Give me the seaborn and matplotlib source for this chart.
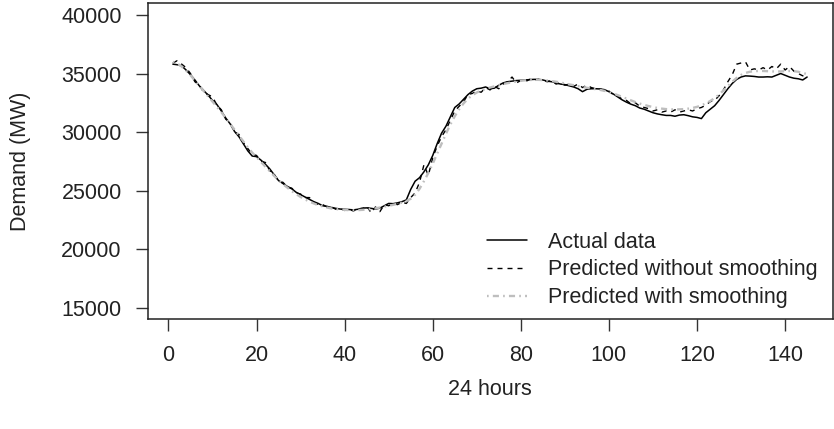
import numpy as np
import pandas as pd
import matplotlib
matplotlib.use("Agg")
import matplotlib.pyplot as plt
import seaborn as sns

# ── Data ──
actual = [
    35800, 35750, 35650, 35300, 34900, 34450, 33950, 33550, 33150, 32700,
    32350, 31800, 31200, 30700, 30050, 29600, 29000, 28400, 27950, 27900,
    27600, 27250, 26850, 26350, 25850, 25600, 25350, 25150, 24850, 24650,
    24450, 24250, 24050, 23900, 23700, 23650, 23550, 23480, 23420, 23400,
    23380, 23350, 23400, 23500, 23520, 23480, 23420, 23500, 23700, 23900,
    23880, 23950, 24050, 24200, 25100, 25800, 26100, 26600, 27200, 28000,
    29000, 29900, 30500, 31300, 32100, 32400, 32800, 33200, 33500, 33700,
    33750, 33850, 33700, 33750, 34000, 34200, 34300, 34350, 34400, 34420,
    34450, 34480, 34500, 34500, 34450, 34350, 34300, 34200, 34100, 34050,
    33950, 33850, 33700, 33450, 33650, 33700, 33700, 33680, 33620, 33450,
    33250, 33000, 32750, 32550, 32380, 32250, 32050, 31950, 31800, 31650,
    31550, 31480, 31420, 31420, 31350, 31450, 31480, 31400, 31300, 31250,
    31150, 31650, 31950, 32250, 32700, 33200, 33700, 34150, 34500, 34700,
    34800, 34780, 34750, 34700, 34700, 34720, 34700, 34850, 35000, 34850,
    34700, 34600, 34550, 34450, 34700,
]

pred_raw = [
    35900, 36100, 35800, 35500, 35000, 34300, 34000, 33400, 33200, 33000,
    32300, 31900, 31100, 30800, 30000, 29800, 29100, 28600, 28100, 28000,
    27500, 27400, 26700, 26400, 25800, 25700, 25300, 25200, 24800, 24700,
    24400, 24400, 24000, 23800, 23800, 23600, 23600, 23400, 23450, 23300,
    23400, 23250, 23500, 23400, 23700, 23100, 23600, 23200, 23800, 23700,
    23900, 23800, 24000, 23900, 24400, 24800, 25700, 27200, 26300, 27800,
    28800, 29600, 30200, 31000, 31800, 32200, 32600, 33200, 33300, 33500,
    33400, 33800, 33600, 33900, 33700, 34100, 34300, 34700, 34200, 34400,
    34300, 34500, 34400, 34500, 34400, 34300, 34400, 34100, 34200, 34000,
    34100, 33900, 34100, 33800, 34000, 33800, 33700, 33700, 33500, 33500,
    33200, 33100, 32800, 32700, 32400, 32500, 32200, 32100, 32000, 31800,
    31900, 31700, 31800, 31700, 31900, 31700, 31800, 31900, 31800, 32000,
    32100, 32300, 32600, 32700, 33100, 33600, 34300, 34900, 35800, 35900,
    36000, 35300, 35400, 35300, 35500, 35300, 35600, 35400, 35800, 35300,
    35600, 35200, 35000, 34800, 35000,
]

pred_smooth = [
    36000, 35850, 35600, 35250, 34850, 34400, 33950, 33500, 33050, 32600,
    32150, 31700, 31200, 30700, 30200, 29700, 29200, 28700, 28250, 27850,
    27450, 27050, 26650, 26250, 25900, 25550, 25250, 24950, 24700, 24450,
    24250, 24050, 23900, 23750, 23650, 23550, 23470, 23420, 23380, 23350,
    23330, 23320, 23330, 23350, 23380, 23420, 23480, 23550, 23620, 23700,
    23780, 23870, 23970, 24100, 24300, 24650, 25150, 25800, 26500, 27300,
    28150, 29000, 29850, 30650, 31350, 31950, 32450, 32850, 33150, 33380,
    33550, 33680, 33800, 33900, 34000, 34100, 34180, 34250, 34320, 34380,
    34420, 34450, 34460, 34460, 34440, 34400, 34350, 34300, 34230, 34150,
    34070, 34000, 33920, 33850, 33780, 33720, 33660, 33600, 33520, 33420,
    33300, 33150, 33000, 32850, 32700, 32560, 32430, 32320, 32220, 32130,
    32060, 32000, 31960, 31940, 31930, 31940, 31960, 32000, 32060, 32150,
    32280, 32450, 32650, 32900, 33200, 33550, 33930, 34300, 34620, 34880,
    35050, 35150, 35200, 35220, 35220, 35200, 35180, 35170, 35180, 35200,
    35220, 35200, 35150, 35050, 34950,
]

x_ticks = [0, 20, 40, 60, 80, 100, 120, 140]
y_ticks = [15000, 20000, 25000, 30000, 35000, 40000]
labels = ["Actual data", "Predicted without smoothing", "Predicted with smoothing"]

df = pd.DataFrame({
    "t": np.arange(1, len(actual) + 1),
    "actual": actual,
    "raw": pred_raw,
    "smooth": pred_smooth,
})

# ── Style ──
sns.set_style("ticks")
plt.rcParams["font.family"] = ["Liberation Sans", "DejaVu Sans"]
plt.rcParams["lines.scale_dashes"] = False
FS = 15.5

fig = plt.figure(figsize=(8.34, 4.29), dpi=100)
ax = fig.add_axes([147.5 / 834, (429 - 319.3) / 429, 685 / 834, 316 / 429])

sns.lineplot(data=df, x="t", y="actual", ax=ax, color="black", lw=1.1,
             label=labels[0])
sns.lineplot(data=df, x="t", y="raw", ax=ax, color="black", lw=1.0,
             label=labels[1])
sns.lineplot(data=df, x="t", y="smooth", ax=ax, color="#bebebe", lw=1.7,
             label=labels[2])

lines = ax.get_lines()
lines[1].set_dashes((3.6, 3.6))
lines[2].set_dashes((1.2, 3.0, 4.4, 3.0))

ax.set_xlim(-4.76, 150.76)
ax.set_ylim(14000, 41000)
ax.set_xticks(x_ticks)
ax.set_yticks(y_ticks)
ax.tick_params(axis="both", labelsize=FS, length=8.6, width=1.0,
               color="#333333", labelcolor="#222222", pad=10)
for s in ax.spines.values():
    s.set_visible(True)
    s.set_linewidth(1.1)
    s.set_color("#222222")

ax.set_xlabel("24 hours", fontsize=FS, color="#222222", labelpad=9.5)
ax.set_ylabel("Demand (MW)", fontsize=FS, color="#222222", labelpad=22)

leg = ax.legend(loc="upper left", bbox_to_anchor=(487 / 834, 1 - 231.5 / 429),
                bbox_transform=fig.transFigure, frameon=False, fontsize=FS,
                handlelength=1.86, handletextpad=0.97, labelspacing=0.32,
                borderpad=0, borderaxespad=0)
for t in leg.get_texts():
    t.set_color("#222222")

fig.savefig("out.png", dpi=100)
plt.close(fig)
